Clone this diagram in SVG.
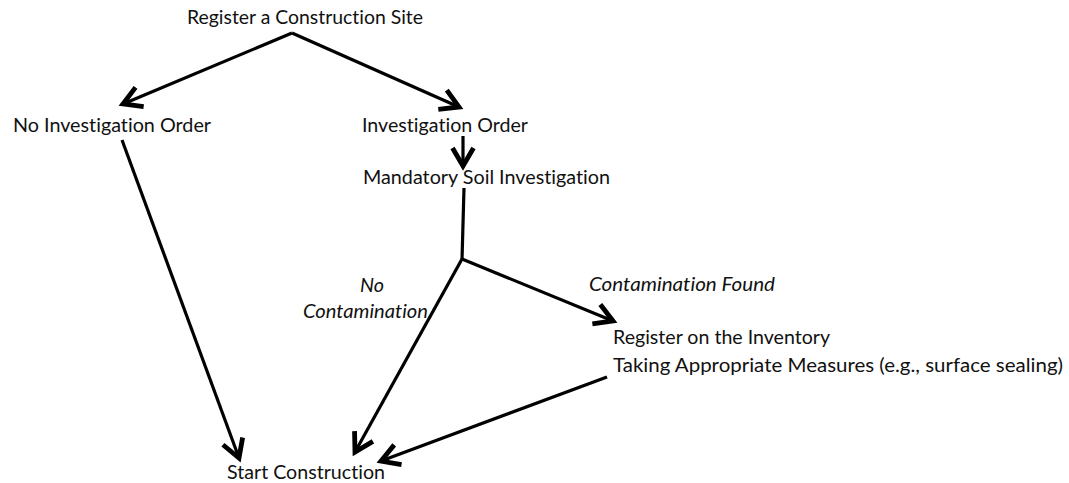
<svg xmlns="http://www.w3.org/2000/svg" width="1069" height="483" viewBox="0 0 1069 483">
<style>
text{font-family:Lato,"Open Sans","Liberation Sans",sans-serif;font-size:18.5px;fill:#111;font-variant-ligatures:none}
.i{font-style:italic}
.c line{stroke:#000;stroke-width:3.2;fill:none}
.c .a{marker-end:url(#ah)}
</style>
<defs>
<marker id="ah" markerUnits="userSpaceOnUse" markerWidth="30" markerHeight="30" viewBox="-16 -10 20 20" refX="0" refY="0" orient="auto">
<path d="M-12,-7 L0,0 L-12,7" fill="none" stroke="#000" stroke-width="3.2" stroke-linejoin="miter"/>
</marker>
</defs>
<rect width="1069" height="483" fill="#fff"/>
<g class="c" id="connectors">
<line class="a" x1="292" y1="33" x2="123" y2="104"/>
<line class="a" x1="292" y1="33" x2="459" y2="107"/>
<line class="a" x1="463" y1="136" x2="463" y2="166"/>
<line x1="464" y1="188" x2="462" y2="260"/>
<line class="a" x1="462" y1="259" x2="613" y2="321"/>
<line class="a" x1="462" y1="259" x2="355" y2="452"/>
<line class="a" x1="122" y1="140" x2="239" y2="458"/>
<line class="a" x1="607" y1="377" x2="381" y2="461"/>
</g>
<g id="n-register"><text x="187" y="24" textLength="236" lengthAdjust="spacingAndGlyphs">Register a Construction Site</text></g>
<g id="n-noorder"><text x="13" y="132" textLength="198" lengthAdjust="spacingAndGlyphs">No Investigation Order</text></g>
<g id="n-order"><text x="362" y="132" textLength="166" lengthAdjust="spacingAndGlyphs">Investigation Order</text></g>
<g id="n-soil"><text x="363" y="184" textLength="247" lengthAdjust="spacingAndGlyphs">Mandatory Soil Investigation</text></g>
<g id="l-nocont"><text class="i" x="360" y="292" textLength="24" lengthAdjust="spacingAndGlyphs">No</text><text class="i" x="303" y="318" textLength="125" lengthAdjust="spacingAndGlyphs">Contamination</text></g>
<g id="l-cont"><text class="i" x="589" y="291" textLength="186" lengthAdjust="spacingAndGlyphs">Contamination Found</text></g>
<g id="n-inventory"><text x="613" y="344" textLength="217" lengthAdjust="spacingAndGlyphs">Register on the Inventory</text><text x="613" y="372" textLength="450" lengthAdjust="spacingAndGlyphs">Taking Appropriate Measures (e.g., surface sealing)</text></g>
<g id="n-start"><text x="227" y="479" textLength="158" lengthAdjust="spacingAndGlyphs">Start Construction</text></g>
</svg>
